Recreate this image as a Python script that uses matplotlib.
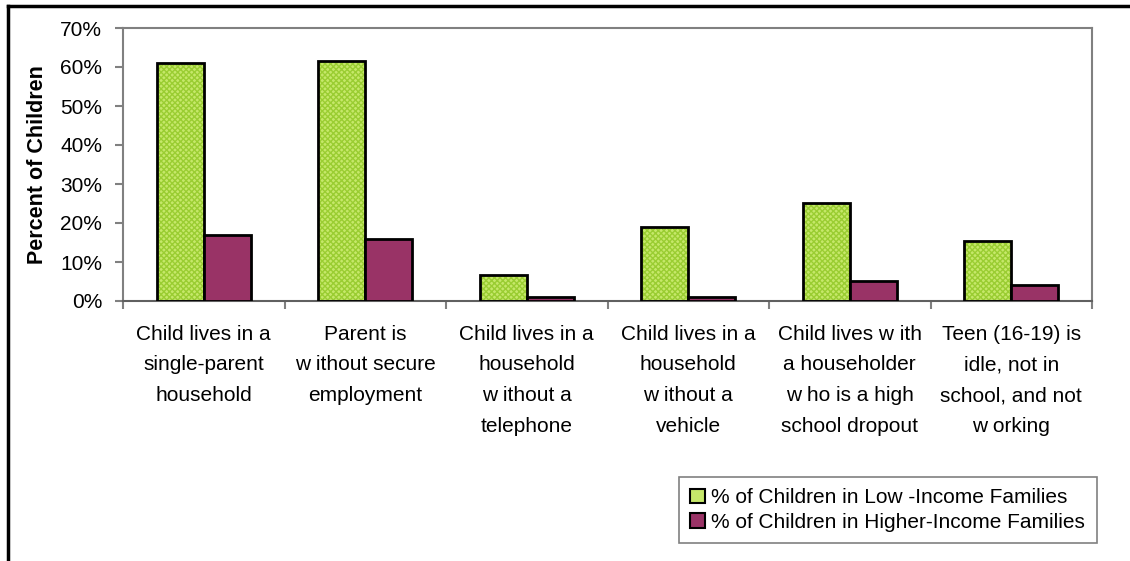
import matplotlib
matplotlib.use("Agg")
import matplotlib.pyplot as plt
import numpy as np
from matplotlib.lines import Line2D
from matplotlib.patches import Patch

plt.rcParams['font.family'] = ['Liberation Sans', 'DejaVu Sans']

categories = [
    "Child lives in a\nsingle-parent\nhousehold",
    "Parent is\nw ithout secure\nemployment",
    "Child lives in a\nhousehold\nw ithout a\ntelephone",
    "Child lives in a\nhousehold\nw ithout a\nvehicle",
    "Child lives w ith\na householder\nw ho is a high\nschool dropout",
    "Teen (16-19) is\nidle, not in\nschool, and not\nw orking",
]
low_income = [61.0, 61.5, 6.6, 18.9, 25.1, 15.3]
higher_income = [17.0, 16.0, 1.0, 1.0, 5.1, 4.1]
series_names = ["% of Children in Low -Income Families",
                "% of Children in Higher-Income Families"]

green = "#c6e86a"
green_hatch = "#9acd32"
maroon = "#993366"

fig = plt.figure(figsize=(11.3, 5.61), dpi=100)
ax = fig.add_axes([123 / 1130, 1 - 301 / 561, (1092 - 123) / 1130, (301 - 28) / 561])

x = np.arange(len(categories))
w = 0.29

# green bars: hatch drawn in its own pass, then black outline
ax.bar(x - w / 2, low_income, w, color=green, edgecolor=green_hatch,
       hatch="xxxxxx", linewidth=0, zorder=2)
ax.bar(x - w / 2, low_income, w, fill=False, edgecolor="black", linewidth=2, zorder=3)
ax.bar(x + w / 2, higher_income, w, color=maroon, edgecolor="black", linewidth=2, zorder=3)

ax.set_xlim(-0.5, len(categories) - 0.5)
ax.set_ylim(0, 70)
ax.set_yticks(np.arange(0, 71, 10))
ax.set_yticklabels([f"{v}%" for v in range(0, 71, 10)], fontsize=15)

ax.set_xticks(x)
ax.set_xticklabels(categories, fontsize=15, linespacing=1.78, va="top")
ax.tick_params(axis="x", length=0, pad=17)
# boundary ticks between categories
ax.set_xticks(np.arange(-0.5, len(categories), 1), minor=True)
ax.tick_params(axis="x", which="minor", length=6, color="#808080", width=1.5)
ax.tick_params(axis="y", length=6, color="#808080", width=1.5, pad=9)

for s in ax.spines.values():
    s.set_color("#808080")
    s.set_linewidth(1.5)
ax.spines["bottom"].set_color("#606060")

ax.set_ylabel("Percent of Children", fontsize=15.5, fontweight="bold", labelpad=9)

handles = [Patch(facecolor=green, edgecolor="black", linewidth=1.5),
           Patch(facecolor=maroon, edgecolor="black", linewidth=1.5)]
leg = fig.legend(handles, series_names, loc="upper left",
                 bbox_to_anchor=(679 / 1130, 1 - 477 / 561), fontsize=15,
                 fancybox=False, edgecolor="#808080", framealpha=1,
                 handlelength=0.7, handleheight=0.7, handletextpad=0.3,
                 borderpad=0.55, labelspacing=0.25, borderaxespad=0)
leg.get_frame().set_linewidth(1.2)

# outer chart border (top and left visible)
fig.add_artist(Line2D([8 / 1130, 1.0], [1 - 6 / 561, 1 - 6 / 561], color="black", lw=2.5))
fig.add_artist(Line2D([8 / 1130, 8 / 1130], [0, 1 - 6 / 561], color="black", lw=2.5))

fig.savefig("out.png", dpi=100)
